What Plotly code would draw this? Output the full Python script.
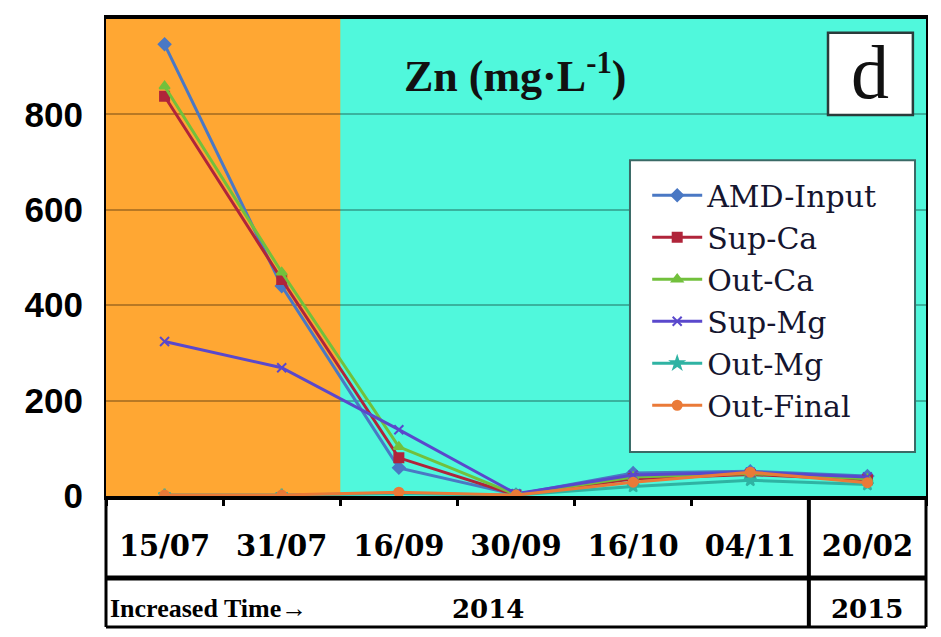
import plotly.graph_objects as go

# Sampling dates (2014 campaign + one 2015 sample)
dates = ["15/07", "31/07", "16/09", "30/09", "16/10", "04/11", "20/02"]

# Zn concentration, mg/L
amd_input = [947, 440, 59, 3, 48, 52, 42]
sup_ca = [838, 454, 80, 2, 36, 45, 34]
out_ca = [859, 469, 103, 3, 40, 47, 36]
sup_mg = [324, 269, 139, 5, 44, 50, 40]
out_mg = [2, 2, 5, 2, 20, 33, 24]
out_final = [2, 2, 8, 2, 29, 50, 28]

series_names = ["AMD-Input", "Sup-Ca", "Out-Ca", "Sup-Mg", "Out-Mg", "Out-Final"]
series_values = [amd_input, sup_ca, out_ca, sup_mg, out_mg, out_final]
series_colors = ["#4A78C4", "#B0243A", "#72C03C", "#5A48CC", "#2FB3A3", "#EA7A38"]
series_symbols = ["diamond", "square", "triangle-up", "x-thin-open", "star", "circle"]

year_labels = ["2014", "2015"]
axis_caption = "Increased Time\u2192"
panel_letter = "d"

fig = go.Figure()
for name, vals, col, sym in zip(series_names, series_values, series_colors, series_symbols):
    fig.add_trace(go.Scatter(
        x=dates, y=vals, name=name, mode="lines+markers",
        line=dict(color=col, width=3),
        marker=dict(color=col, symbol=sym, size=9,
                    line=dict(color=col, width=2)),
    ))

n = len(dates)
orange_end = 1.5  # first two samples shaded
shapes = [
    # shaded early period
    dict(type="rect", xref="x", yref="paper", x0=-0.5, x1=orange_end, y0=0, y1=1,
         fillcolor="#FFA733", line=dict(width=0), layer="below"),
    # legend panel
    dict(type="rect", xref="paper", yref="paper", x0=0.639, x1=0.9866, y0=0.092, y1=0.704,
         fillcolor="white", line=dict(color="#3A6A66", width=2), layer="above"),
    # "d" panel box
    dict(type="rect", xref="paper", yref="paper", x0=0.8805, x1=0.984, y0=0.799, y1=0.971,
         fillcolor="white", line=dict(color="#2B3B3B", width=2.5), layer="above"),
    # table under the axis
    dict(type="line", xref="paper", yref="paper", x0=0, x1=0, y0=0, y1=-0.2746,
         line=dict(color="black", width=3)),
    dict(type="line", xref="paper", yref="paper", x0=1, x1=1, y0=0, y1=-0.2746,
         line=dict(color="black", width=3)),
    dict(type="line", xref="paper", yref="paper", x0=0, x1=1, y0=-0.172, y1=-0.172,
         line=dict(color="black", width=5)),
    dict(type="line", xref="paper", yref="paper", x0=0, x1=1, y0=-0.2746, y1=-0.2746,
         line=dict(color="black", width=3)),
    dict(type="line", xref="paper", yref="paper", x0=(n - 1) / n, x1=(n - 1) / n,
         y0=0, y1=-0.2746, line=dict(color="black", width=4)),
]

year_font = dict(family="DejaVu Serif", size=26, color="black", weight=700)
caption_font = dict(family="Liberation Serif", size=26, color="black", weight=700)
annotations = [
    dict(text="Zn (mg\u00b7L<sup>-1</sup>)", xref="paper", yref="paper", x=0.499, y=0.885,
         xanchor="center", yanchor="middle",
         showarrow=False, font=dict(family="Liberation Serif", size=44, color="#111111", weight=700)),
    dict(text=panel_letter, xref="paper", yref="paper", x=0.932, y=0.888,
         xanchor="center", yanchor="middle",
         showarrow=False, font=dict(family="Liberation Serif", size=76, color="#111111")),
    dict(text=axis_caption, xref="paper", yref="paper", x=0.003, y=-0.236,
         xanchor="left", yanchor="middle",
         showarrow=False, font=caption_font),
    dict(text=year_labels[0], xref="paper", yref="paper", x=0.466, y=-0.236,
         xanchor="center", yanchor="middle",
         showarrow=False, font=year_font),
    dict(text=year_labels[1], xref="paper", yref="paper", x=(n - 0.5) / n, y=-0.236,
         xanchor="center", yanchor="middle",
         showarrow=False, font=year_font),
]

fig.update_layout(
    width=941, height=637,
    margin=dict(l=106, r=15, t=19, b=141),
    paper_bgcolor="white",
    plot_bgcolor="#50F8DC",
    shapes=shapes,
    annotations=annotations,
    showlegend=True,
    legend=dict(
        x=0.66, y=0.685, xanchor="left", yanchor="top",
        bgcolor="rgba(0,0,0,0)", borderwidth=0,
        font=dict(family="DejaVu Serif", size=30, color="#15152E"),
        itemwidth=50,
        tracegroupgap=0,
    ),
    xaxis=dict(
        type="category", categoryorder="array", categoryarray=dates,
        range=[-0.5, n - 0.5],
        showline=True, linecolor="black", linewidth=4, mirror=True,
        ticks="outside", tickson="boundaries", ticklen=6, tickwidth=3, tickcolor="black",
        showgrid=False,
        tickfont=dict(family="DejaVu Serif", size=29, color="black", weight=700),
        ticklabelstandoff=21,
    ),
    yaxis=dict(
        range=[0, 1000],
        tickvals=[0, 200, 400, 600, 800],
        showline=True, linecolor="black", linewidth=2, mirror=True,
        showgrid=True, gridcolor="rgba(0,0,0,0.28)", gridwidth=1.5,
        zeroline=False, ticks="",
        tickfont=dict(family="Liberation Sans", size=35, color="black", weight=700),
        ticklabelstandoff=14,
    ),
)

fig.write_html("out.html")
